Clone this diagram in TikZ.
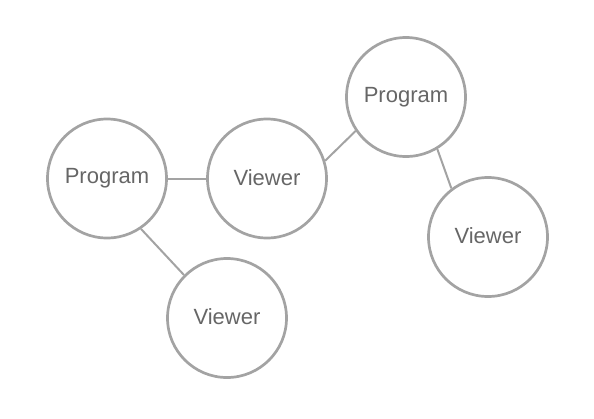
\documentclass[tikz,border=0pt]{standalone}
\usepackage{fontspec}
\setmainfont{Liberation Sans}
\definecolor{edgegray}{HTML}{A3A3A3}
\definecolor{textgray}{HTML}{666666}
\begin{document}
\begin{tikzpicture}[x=1pt,y=-1pt,
  bubble/.style={circle,draw=edgegray,line width=2.7pt,minimum size=119pt,inner sep=0pt,text=textgray,font=\fontsize{22}{26}\selectfont},
  link/.style={draw=edgegray,line width=2pt}]
\useasboundingbox (0,0) rectangle (594,418);
\node[bubble] (p1) at (107,178.5) {\raisebox{2pt}{Program}};
\node[bubble] (v1) at (267,178.5) {\raisebox{2pt}{Viewer}};
\node[bubble] (p2) at (406,97) {\raisebox{2pt}{Program}};
\node[bubble] (v2) at (488,237) {\raisebox{2pt}{Viewer}};
\node[bubble] (v3) at (227,318) {\raisebox{2pt}{Viewer}};
\draw[link] (p1.east) -- (v1.west);
\draw[link] (p1.304.5) -- (v3.135);
\draw[link] (v1.17.7) -- (p2.214.2);
\draw[link] (p2.301) -- (v2.127.6);
\end{tikzpicture}
\end{document}
